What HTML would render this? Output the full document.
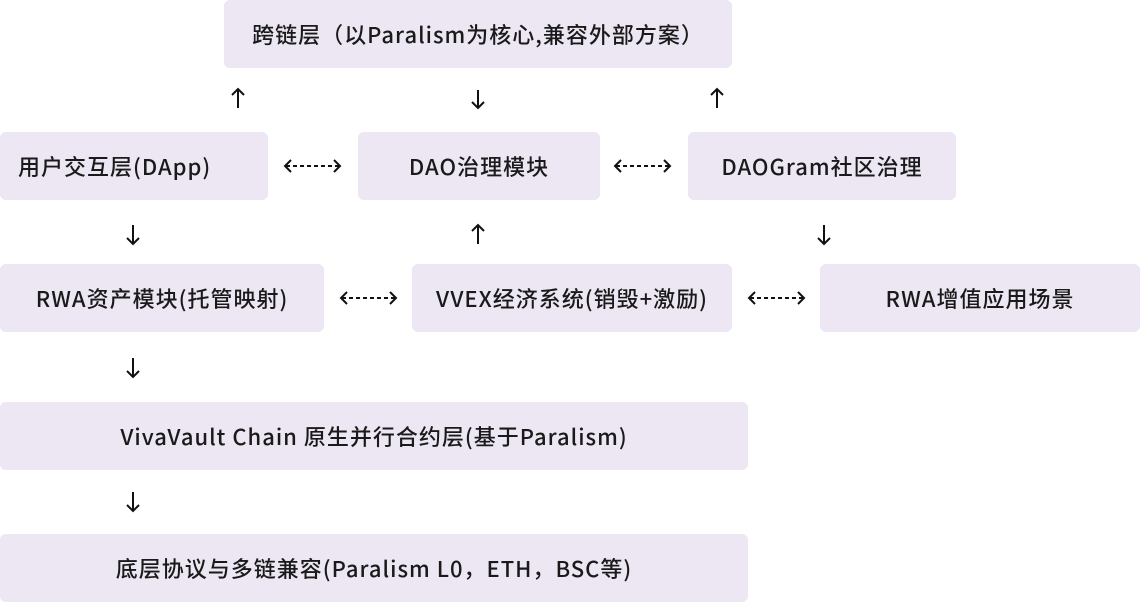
<!DOCTYPE html>
<html><head><meta charset="utf-8"><style>
body{margin:0;width:1140px;height:602px;background:#fff;position:relative;overflow:hidden;font-family:"Noto Sans CJK SC",sans-serif;}
.b{position:absolute;height:68px;background:#ECE7F3;border-radius:6px;display:flex;align-items:center;justify-content:center;font-size:22px;letter-spacing:1px;font-weight:500;color:#1a1a1a;white-space:nowrap}
svg{position:absolute;left:0;top:0}
</style></head><body>
<div class="b" style="left:224px;top:0;width:508px">跨链层（以Paralism为核心,兼容外部方案）</div>
<div class="b" style="left:0;top:132px;width:268px;justify-content:flex-start;padding-left:18px;box-sizing:border-box">用户交互层(DApp)</div>
<div class="b" style="left:358px;top:132px;width:242px">DAO治理模块</div>
<div class="b" style="left:688px;top:132px;width:268px">DAOGram社区治理</div>
<div class="b" style="left:0;top:264px;width:324px">RWA资产模块(托管映射)</div>
<div class="b" style="left:412px;top:264px;width:320px">VVEX经济系统(销毁+激励)</div>
<div class="b" style="left:820px;top:264px;width:320px">RWA增值应用场景</div>
<div class="b" style="left:0;top:402px;width:748px">VivaVault Chain 原生并行合约层(基于Paralism)</div>
<div class="b" style="left:0;top:534px;width:748px">底层协议与多链兼容(Paralism L0，ETH，BSC等)</div>
<svg width="1140" height="602" fill="none" stroke="#111" stroke-width="2">
<g>
<path d="M238 108V89M232 95l6-6 6 6"/>
<path d="M478 90V108M472 102l6 6 6-6"/>
<path d="M717 108V89M711 95l6-6 6 6"/>
<path d="M133 225V244M127 238l6 6 6-6"/>
<path d="M478 244V225M472 231l6-6 6 6"/>
<path d="M824 225V244M818 238l6 6 6-6"/>
<path d="M133 358V377M127 371l6 6 6-6"/>
<path d="M133 492V511M127 505l6 6 6-6"/>
</g>
<g stroke-dasharray="4 3">
<path d="M286 166H339"/><path d="M616 166H669"/><path d="M342 298H395"/><path d="M750 298H803"/>
</g>
<g>
<path d="M291 160l-6 6 6 6M334 160l6 6-6 6"/>
<path d="M621 160l-6 6 6 6M664 160l6 6-6 6"/>
<path d="M347 292l-6 6 6 6M390 292l6 6-6 6"/>
<path d="M755 292l-6 6 6 6M798 292l6 6-6 6"/>
</g>
</svg>
</body></html>
